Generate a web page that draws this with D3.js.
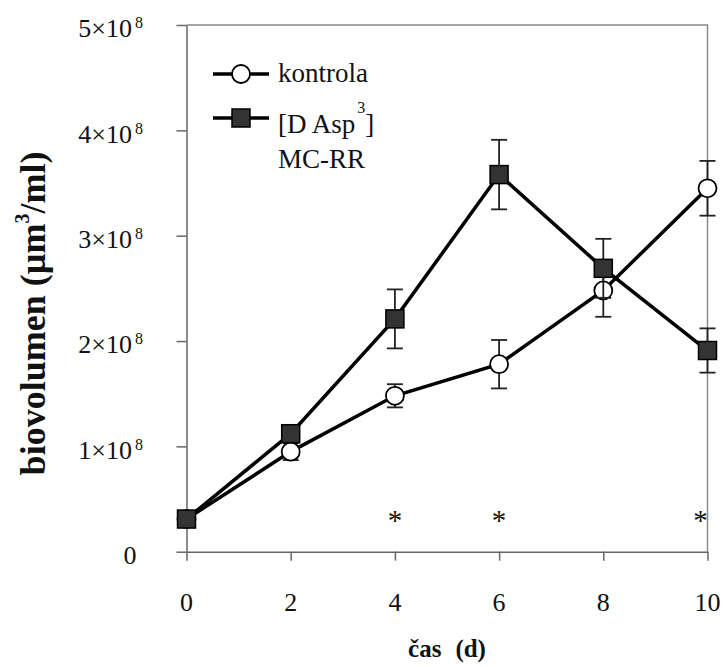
<!DOCTYPE html>
<html>
<head>
<meta charset="utf-8">
<script src="https://cdn.jsdelivr.net/npm/d3@7"></script>
<style>
  html, body { margin: 0; padding: 0; background: #fff; }
  svg { display: block; }
  text { font-family: "Liberation Serif", "Times New Roman", "DejaVu Serif", serif; fill: #111; }
</style>
</head>
<body>
<svg id="chart" width="723" height="667"></svg>
<script>
// ---- data (values in units of 1e8 µm3/ml) ----
const days = [0, 2, 4, 6, 8, 10];
const kontrola = [0.31, 0.95, 1.48, 1.78, 2.48, 3.45];
const kontrolaErr = [0.02, 0.08, 0.11, 0.23, 0.25, 0.26];
const mcrr = [0.31, 1.12, 2.21, 3.58, 2.69, 1.91];
const mcrrErr = [0.02, 0.03, 0.28, 0.33, 0.28, 0.21];
const yTicks = [0, 1, 2, 3, 4, 5];
const xTicks = [0, 2, 4, 6, 8, 10];
const starDays = [4, 6, 10];
const starLevel = 0.33;

(function () {
const svg = d3.select("#chart");
const mLeft = 186.5, mRight = 707.5, mTop = 25, mBottom = 551.7;

const x = d3.scaleLinear().domain([0, 10]).range([mLeft, mRight]);
const y = d3.scaleLinear().domain([0, 5]).range([mBottom, mTop]);

// frame (top & right)
svg.append("path")
  .attr("d", `M${x(0)},${y(5)}H${x(10)}V${y(0)}`)
  .attr("fill", "none").attr("stroke", "#8a8a8a").attr("stroke-width", 1.5);

// y axis
const yAxis = svg.append("g").attr("transform", `translate(${x(0)},0)`)
  .call(d3.axisLeft(y).tickValues(yTicks).tickSize(10).tickSizeOuter(0).tickFormat(""));
yAxis.select(".domain").attr("stroke", "#666").attr("stroke-width", 1.5);
yAxis.selectAll(".tick line").attr("stroke", "#666").attr("stroke-width", 1.5);

// x axis
const xAxis = svg.append("g").attr("transform", `translate(0,${y(0)})`)
  .call(d3.axisBottom(x).tickValues(xTicks).tickSize(9).tickSizeOuter(0).tickFormat(""));
xAxis.select(".domain").attr("stroke", "#666").attr("stroke-width", 1.5);
xAxis.selectAll(".tick line").attr("stroke", "#666").attr("stroke-width", 1.5);

// y tick labels
yTicks.forEach(v => {
  const t = svg.append("text")
    .attr("y", y(v) + 12.3)
    .attr("font-size", 26);
  if (v === 0) {
    t.attr("x", 130).attr("text-anchor", "middle").text("0");
  } else {
    t.attr("x", 143).attr("text-anchor", "end");
    t.append("tspan").text(v + "×10");
    t.append("tspan").attr("font-size", 16).attr("dx", 3).attr("dy", -9).text("8");
  }
});

// x tick labels
xTicks.forEach(v => {
  svg.append("text").attr("x", x(v)).attr("y", 610.5)
    .attr("text-anchor", "middle").attr("font-size", 26).text(v);
});

// axis titles
const xt = svg.append("text").attr("x", 447).attr("y", 657)
  .attr("text-anchor", "middle").attr("font-size", 25).attr("font-weight", "bold");
xt.append("tspan").text("čas");
xt.append("tspan").attr("dx", 14).text("(d)");

const yt = svg.append("text")
  .attr("transform", "translate(45,313.5) rotate(-90)")
  .attr("text-anchor", "middle").attr("font-size", 36).attr("font-weight", "bold");
yt.append("tspan").text("biovolumen (µm");
yt.append("tspan").attr("font-size", 20).attr("dy", -16).text("3");
yt.append("tspan").attr("dy", 16).text("/ml)");

// series drawing
const line = d3.line().x((d, i) => x(days[i])).y(d => y(d));

function errorBars(vals, errs) {
  const g = svg.append("g").attr("stroke", "#222").attr("stroke-width", 1.8);
  vals.forEach((v, i) => {
    const cx = x(days[i]);
    g.append("line").attr("x1", cx).attr("x2", cx).attr("y1", y(v + errs[i])).attr("y2", y(v - errs[i]));
    g.append("line").attr("x1", cx - 8).attr("x2", cx + 8).attr("y1", y(v + errs[i])).attr("y2", y(v + errs[i]));
    g.append("line").attr("x1", cx - 8).attr("x2", cx + 8).attr("y1", y(v - errs[i])).attr("y2", y(v - errs[i]));
  });
}

// kontrola
errorBars(kontrola, kontrolaErr);
svg.append("path").datum(kontrola).attr("d", line)
  .attr("fill", "none").attr("stroke", "#000").attr("stroke-width", 3.5);
svg.append("g").selectAll("circle").data(kontrola).join("circle")
  .attr("cx", (d, i) => x(days[i])).attr("cy", d => y(d)).attr("r", 9)
  .attr("fill", "#fff").attr("stroke", "#000").attr("stroke-width", 1.8);

// MC-RR
errorBars(mcrr, mcrrErr);
svg.append("path").datum(mcrr).attr("d", line)
  .attr("fill", "none").attr("stroke", "#000").attr("stroke-width", 3.5);
svg.append("g").selectAll("rect").data(mcrr).join("rect")
  .attr("x", (d, i) => x(days[i]) - 9).attr("y", d => y(d) - 9)
  .attr("width", 18).attr("height", 18)
  .attr("fill", "#333").attr("stroke", "#000").attr("stroke-width", 1.5);

// asterisks
starDays.forEach(d => {
  const sx = d === 10 ? x(d) - 7 : x(d);
  svg.append("text").attr("x", sx).attr("y", y(starLevel) + 13)
    .attr("text-anchor", "middle").attr("font-size", 29).text("*");
});

// legend
svg.append("line").attr("x1", 213).attr("x2", 269).attr("y1", 74).attr("y2", 74)
  .attr("stroke", "#000").attr("stroke-width", 3.5);
svg.append("circle").attr("cx", 241).attr("cy", 74).attr("r", 9)
  .attr("fill", "#fff").attr("stroke", "#000").attr("stroke-width", 1.8);
svg.append("text").attr("x", 278).attr("y", 82).attr("font-size", 27).text("kontrola");

svg.append("line").attr("x1", 213).attr("x2", 269).attr("y1", 118).attr("y2", 118)
  .attr("stroke", "#000").attr("stroke-width", 3.5);
svg.append("rect").attr("x", 232).attr("y", 109).attr("width", 18).attr("height", 18)
  .attr("fill", "#333").attr("stroke", "#000").attr("stroke-width", 1.5);
const lt = svg.append("text").attr("x", 278).attr("y", 133).attr("font-size", 27);
lt.append("tspan").text("[D Asp");
lt.append("tspan").attr("font-size", 16).attr("dx", 2).attr("dy", -20).text("3");
lt.append("tspan").attr("dy", 20).text("]");
svg.append("text").attr("x", 278).attr("y", 168).attr("font-size", 27).text("MC-RR");
})();
</script>
</body>
</html>
